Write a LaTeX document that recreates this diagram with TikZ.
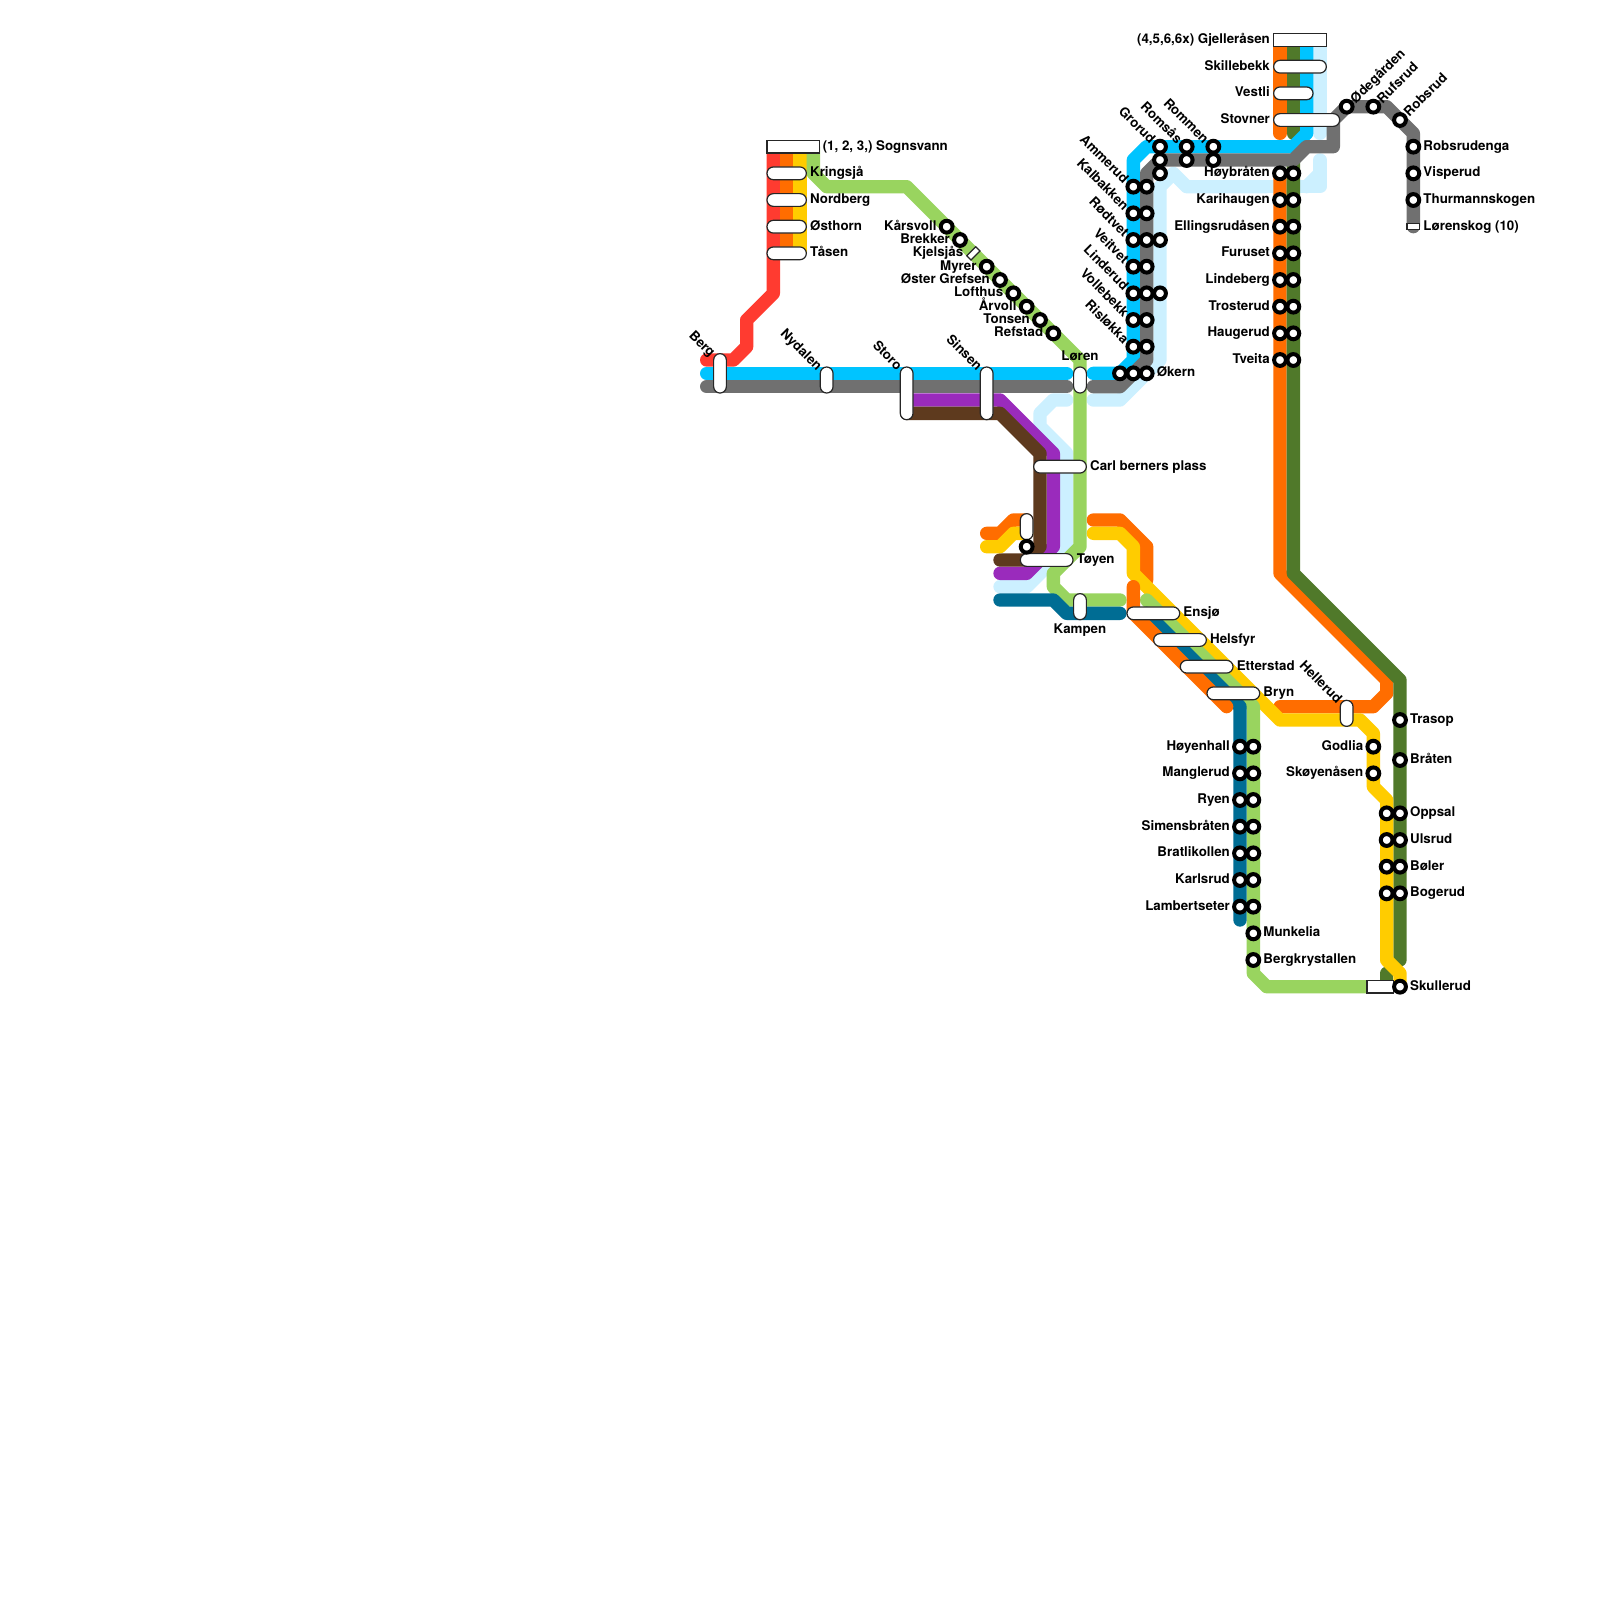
\documentclass[tikz,border=0pt]{standalone}
\usepackage{fontspec}
\setmainfont{TeX Gyre Heros}
\definecolor{cblue}{HTML}{00C4FF}
\definecolor{cgrey}{HTML}{707070}
\definecolor{corange}{HTML}{FF6D00}
\definecolor{cyellow}{HTML}{FFCC00}
\definecolor{cred}{HTML}{FF3B30}
\definecolor{cgreen}{HTML}{99D45F}
\definecolor{cdgreen}{HTML}{50792A}
\definecolor{cteal}{HTML}{006D94}
\definecolor{cpurple}{HTML}{9A2BBC}
\definecolor{cbrown}{HTML}{5E3A1E}
\definecolor{clight}{HTML}{CCF0FF}
\newcounter{lblc}
\tikzset{
  route/.style={line width=6.667pt,line cap=round,line join=round},
  ringst/.style={circle,draw=black,fill=white,line width=2pt,minimum size=5.9pt,inner sep=0pt},
  lbl/.style={font=\fontsize{6.667pt}{8pt}\selectfont\bfseries,inner sep=0pt,text=black},
  pill/.style={draw=black!85,fill=white,line width=.6pt,rounded corners=3.2pt,inner sep=0pt,minimum width=#1*6.667pt-.3pt},
  sqbox/.style={draw=black!85,fill=white,line width=.6pt,inner sep=0pt},
}
\newcommand\LL[3]{\stepcounter{lblc}\node[lbl,anchor=base east] (lab\thelblc) at ({#1+.07},{#2+.27}) {#3};}
\newcommand\LR[3]{\stepcounter{lblc}\node[lbl,anchor=base west] (lab\thelblc) at ({#1-.07},{#2+.27}) {#3};}
\newcommand\LC[3]{\stepcounter{lblc}\node[lbl,anchor=base] (lab\thelblc) at ({#1},{#2+.07}) {#3};}
\newcommand\LD[3]{\stepcounter{lblc}\node[lbl,rotate=-45,anchor=mid east] (lab\thelblc) at ({#1-.46},{#2-.43}) {#3};}
\newcommand\LU[3]{\stepcounter{lblc}\node[lbl,rotate=45,anchor=mid west] (lab\thelblc) at ({#1+.4},{#2-.45}) {#3};}
\newcommand\HP[4]{\node[pill=#3,minimum height=6.367pt] (#4) at ({#1},{#2}) {};}
\newcommand\VP[4]{\node[pill=1,minimum height=#3*6.667pt-.3pt] (#4) at ({#1},{#2}) {};}
\begin{document}
\begin{tikzpicture}[x=6.6667pt,y=-6.6667pt]
\useasboundingbox (0,0) rectangle (120,120);
\fill[white] (0,0) rectangle (120,120);
% light blue
\draw[route,clight] (80,30)--(79,30)--(78,31)--(78,32)--(80,34)--(80,41)--(77,44)--(75,44);
\draw[route,clight] (82,30)--(84,30)--(87,27)--(87,14)--(88,13)--(89,14)--(95,14);
\draw[route,clight] (95,14)--(98,14)--(99,14)--(99,13)--(99,12);
\draw[route,clight] (99,13)--(98,14);
\draw[route,clight] (99,3)--(99,10);
% north-west group
\draw[route,cred] (53,27)--(55,27)--(56,26)--(56,24)--(58,22)--(58,11);
\draw[line width=6.667pt,corange] (59,11)--(59,19);
\draw[line width=6.667pt,cyellow] (60,11)--(60,19);
% central
\draw[route,cpurple] (68,30)--(75,30)--(79,34)--(79,41)--(77,43)--(75,43);
\draw[route,cbrown] (68,31)--(75,31)--(78,34)--(78,41)--(77,42)--(75,42);
\draw[route,corange] (74,40)--(75,40)--(76,39)--(77,39);
\draw[route,cyellow] (74,41)--(75,41)--(76,40)--(77,40);
% east
\draw[route,corange] (96,3)--(96,10);
\draw[route,cdgreen] (97,3)--(97,10);
\draw[route,corange] (96,13)--(96,43)--(104,51)--(104,52)--(103,53)--(96,53);
\draw[route,cdgreen] (97,12)--(97,43)--(105,51)--(105,72);
\draw[route,cdgreen] (104,73)--(104,74);
% south diagonal
\draw[route,corange] (82,39)--(84,39)--(86,41)--(86,43.5);
\draw[route,cyellow] (82,40)--(84,40)--(85,41)--(85,43)--(96,54)--(102,54)--(103,55)--(103,59)--(104,60)--(104,72)--(105,73)--(105,74);
\draw[route,cgreen] (86,45)--(94,53)--(94,73)--(95,74)--(103,74);
\draw[route,cteal] (86,46)--(93,53)--(93,69);
\draw[route,corange] (85,44)--(85,46)--(92,53);
% blue and grey
\draw[route,cblue] (53,28)--(80,28);
\draw[route,cblue] (82,28)--(84,28)--(85,27)--(85,12)--(86,11)--(97,11)--(98,10)--(98,3);
\draw[route,cgrey] (53,29)--(80,29);
\draw[route,cgrey] (82,29)--(84,29)--(86,27)--(86,13)--(87,12)--(97,12)--(98,11)--(100,11)--(100,9)--(101,8)--(104,8)--(106,10)--(106,17);
% green
\draw[route,cgreen] (61,11)--(61,13)--(62,14)--(68,14)--(81,27)--(81,41)--(79,43)--(79,44)--(80,45)--(84,45);
\draw[route,cteal] (75,45)--(79,45)--(80,46)--(84,46);
% squares
\node[sqbox,minimum width=26.4pt,minimum height=6.4pt] (sognsvann) at (59.5,11) {};
\node[sqbox,minimum width=26.4pt,minimum height=6.4pt] (gjelleraasen) at (97.5,3) {};
\node[sqbox,minimum width=13.1pt,minimum height=6.4pt] (skullerud) at (103.5,74) {};
\node[sqbox,minimum width=6.4pt,minimum height=3pt] (lorenskog) at (106,17) {};
\node[sqbox,minimum width=6.4pt,minimum height=3pt,rotate=45] (kjelsjaas) at (73,19) {};
% pills
\HP{59}{13}{3}{kringsjaa}\HP{59}{15}{3}{nordberg}\HP{59}{17}{3}{osthorn}\HP{59}{19}{3}{taasen}
\VP{54}{28}{3}{berg}\VP{62}{28.5}{2}{nydalen}\VP{68}{29.5}{4}{storo}\VP{74}{29.5}{4}{sinsen}
\VP{81}{28.5}{2}{loren}\VP{81}{45.5}{2}{kampen}\VP{77}{39.5}{2}{nameless}\VP{101}{53.5}{2}{hellerud}
\HP{79.5}{35}{4}{carlberners}\HP{78.5}{42}{4}{toyen}
\HP{86.5}{46}{4}{ensjo}\HP{88.5}{48}{4}{helsfyr}\HP{90.5}{50}{4}{etterstad}\HP{92.5}{52}{4}{bryn}
\HP{97.5}{5}{4}{skillebekk}\HP{97}{7}{3}{vestli}\HP{98}{9}{5}{stovner}
% rings
\foreach \x/\y in {71/17,72/18,74/20,75/21,76/22,77/23,78/24,79/25,77/41,
  84/28,85/28,86/28,85/26,86/26,85/24,86/24,85/22,86/22,87/22,85/20,86/20,85/18,86/18,87/18,85/16,86/16,85/14,86/14,
  87/11,87/12,87/13,89/11,89/12,91/11,91/12,
  101/8,103/8,105/9,106/11,106/13,106/15,
  96/13,97/13,96/15,97/15,96/17,97/17,96/19,97/19,96/21,97/21,96/23,97/23,96/25,97/25,96/27,97/27,
  93/56,94/56,93/58,94/58,93/60,94/60,93/62,94/62,93/64,94/64,93/66,94/66,93/68,94/68,94/70,94/72,
  103/56,103/58,105/54,105/57,104/61,105/61,104/63,105/63,104/65,105/65,104/67,105/67,105/74}
  \node[ringst] (r\x-\y) at (\x,\y) {};
% labels
\LR{61.75}{11}{(1, 2, 3,) Sognsvann}
\LR{60.8}{13}{Kringsjå}\LR{60.8}{15}{Nordberg}\LR{60.8}{17}{Østhorn}\LR{60.8}{19}{Tåsen}
\LL{70.2}{17}{Kårsvoll}\LL{71.2}{18}{Brekker}\LL{72.2}{19}{Kjelsjås}\LL{73.2}{20}{Myrer}\LL{74.2}{21}{Øster Grefsen}\LL{75.2}{22}{Lofthus}\LL{76.2}{23}{Årvoll}\LL{77.2}{24}{Tonsen}\LL{78.2}{25}{Refstad}
\LD{54}{27}{Berg}\LD{62}{28}{Nydalen}\LD{68}{28}{Storo}\LD{74}{28}{Sinsen}\LD{101}{53}{Hellerud}
\LC{81}{26.95}{Løren}\LC{81}{47.45}{Kampen}
\LR{81.8}{35}{Carl berners plass}\LR{80.8}{42}{Tøyen}
\LR{88.8}{46}{Ensjø}\LR{90.8}{48}{Helsfyr}\LR{92.8}{50}{Etterstad}\LR{94.8}{52}{Bryn}
\LR{86.8}{28}{Økern}
\LD{85}{14}{Ammerud}\LD{85}{16}{Kalbakken}\LD{85}{18}{Rødtvet}\LD{85}{20}{Veitvet}\LD{85}{22}{Linderud}\LD{85}{24}{Vollebekk}\LD{85}{26}{Risløkka}
\LD{87}{11}{Grorud}\LD{89}{11}{Romsås}\LD{91}{11}{Rommen}
\LL{95.2}{3}{(4,5,6,6x) Gjelleråsen}\LL{95.2}{5}{Skillebekk}\LL{95.2}{7}{Vestli}\LL{95.2}{9}{Stovner}
\LL{95.2}{13}{Høybråten}\LL{95.2}{15}{Karihaugen}\LL{95.2}{17}{Ellingsrudåsen}\LL{95.2}{19}{Furuset}\LL{95.2}{21}{Lindeberg}\LL{95.2}{23}{Trosterud}\LL{95.2}{25}{Haugerud}\LL{95.2}{27}{Tveita}
\LU{101}{8}{Ødegården}\LU{103}{8}{Rufsrud}\LU{105}{9}{Robsrud}
\LR{106.8}{11}{Robsrudenga}\LR{106.8}{13}{Visperud}\LR{106.8}{15}{Thurmannskogen}\LR{106.8}{17}{Lørenskog (10)}
\LL{92.2}{56}{Høyenhall}\LL{92.2}{58}{Manglerud}\LL{92.2}{60}{Ryen}\LL{92.2}{62}{Simensbråten}\LL{92.2}{64}{Bratlikollen}\LL{92.2}{66}{Karlsrud}\LL{92.2}{68}{Lambertseter}
\LR{94.8}{70}{Munkelia}\LR{94.8}{72}{Bergkrystallen}
\LL{102.2}{56}{Godlia}\LL{102.2}{58}{Skøyenåsen}
\LR{105.8}{54}{Trasop}\LR{105.8}{57}{Bråten}\LR{105.8}{61}{Oppsal}\LR{105.8}{63}{Ulsrud}\LR{105.8}{65}{Bøler}\LR{105.8}{67}{Bogerud}\LR{105.8}{74}{Skullerud}
\end{tikzpicture}
\end{document}
